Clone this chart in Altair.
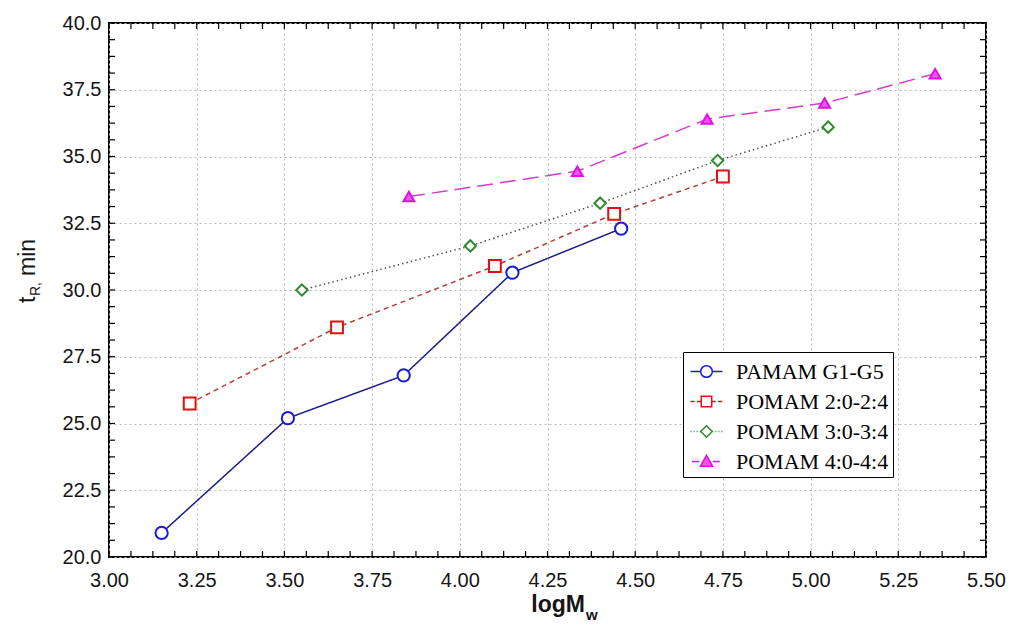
import altair as alt
import pandas as pd

# Series and measured points (x = logMw, y = retention time in min)
series_names = ["PAMAM G1-G5", "POMAM 2:0-2:4", "POMAM 3:0-3:4", "POMAM 4:0-4:4"]

pamam_x = [3.15, 3.51, 3.84, 4.15, 4.46]
pamam_y = [20.9, 25.2, 26.8, 30.65, 32.3]

pomam2_x = [3.23, 3.65, 4.10, 4.44, 4.75]
pomam2_y = [25.75, 28.6, 30.9, 32.85, 34.25]

pomam3_x = [3.55, 4.03, 4.40, 4.735, 5.05]
pomam3_y = [30.0, 31.65, 33.25, 34.85, 36.1]

pomam4_x = [3.855, 4.335, 4.705, 5.04, 5.355]
pomam4_y = [33.5, 34.45, 36.4, 37.0, 38.1]

x_labels = [3.0, 3.25, 3.5, 3.75, 4.0, 4.25, 4.5, 4.75, 5.0, 5.25, 5.5]
y_labels = [20.0, 22.5, 25.0, 27.5, 30.0, 32.5, 35.0, 37.5, 40.0]
x_ticks = [3.0 + 0.0625 * i for i in range(41)]
y_ticks = [20.0 + 0.625 * i for i in range(33)]

rows = []
for name, xs, ys in zip(series_names,
                        [pamam_x, pomam2_x, pomam3_x, pomam4_x],
                        [pamam_y, pomam2_y, pomam3_y, pomam4_y]):
    for a, b in zip(xs, ys):
        rows.append({"series": name, "logMw": a, "tR": b})
df = pd.DataFrame(rows)
xt = pd.DataFrame({"xpos": x_ticks})
yt = pd.DataFrame({"ypos": y_ticks})

line_colors = ["#1c1c8c", "#b2403a", "#4a5a4a", "#d23ec8"]
marker_colors = ["#1a1ade", "#dd1111", "#2e8b2e", "#e010e0"]
marker_fills = ["white", "white", "white", "#ee55ee"]
dash_styles = [[1, 0], [5, 4], [1.5, 3], [16, 7]]
marker_shapes = ["circle", "square", "diamond", "triangle-up"]
marker_sizes = [150, 120, 95, 130]

SANS = "Liberation Sans"
SERIF = "Liberation Serif"
INK = "#151515"
W, H = 877, 534
TICK = 6


# Legend glyphs: a short line in the series' dash style with the marker in the middle
def segment(x0, x1, dash, gap):
    parts = []
    x = x0
    while x < x1 - 1e-9:
        e = min(x + dash, x1)
        parts.append(f"M{x:.3f},0H{e:.3f}")
        x = e + gap
    return "".join(parts)


def side_lines(r, dash, gap, reach=1.1):
    return segment(-reach, -r, dash, gap) + segment(r, reach, dash, gap)


def circle(r):
    return f"M{-r},0A{r},{r} 0 1,0 {r},0A{r},{r} 0 1,0 {-r},0Z"


def square(s):
    return f"M{-s},{-s}H{s}V{s}H{-s}Z"


def diamond(d):
    return f"M0,{-d}L{d},0L0,{d}L{-d},0Z"


def triangle(t):
    return f"M0,{-t}L{t},{t * 0.8:.3f}L{-t},{t * 0.8:.3f}Z"


legend_paths = [
    side_lines(0.4, 2.5, 0.0) + circle(0.4),
    side_lines(0.36, 0.28, 0.16) + square(0.36),
    side_lines(0.4, 0.07, 0.14) + diamond(0.4),
    side_lines(0.42, 0.5, 0.2, reach=1.0) + triangle(0.42),
]


def xscale():
    return alt.Scale(domain=[3.0, 5.5], nice=False, zero=False)


def yscale():
    return alt.Scale(domain=[20.0, 40.0], nice=False, zero=False)


# Lines, with tick labels and dotted grid
lines = alt.Chart(df).mark_line(strokeWidth=1.5).encode(
    x=alt.X("logMw:Q", scale=xscale(),
            axis=alt.Axis(values=x_labels, format=".2f", orient="bottom", ticks=False,
                          domain=False, grid=True, gridDash=[2, 3], gridColor="#b8b8b8",
                          gridWidth=1, labelFont=SANS, labelFontSize=20, labelColor=INK,
                          labelPadding=13, labelFlush=False, title=None)),
    y=alt.Y("tR:Q", scale=yscale(),
            axis=alt.Axis(values=y_labels, format=".1f", orient="left", ticks=False,
                          domain=False, grid=True, gridDash=[2, 3], gridColor="#b8b8b8",
                          gridWidth=1, labelFont=SANS, labelFontSize=20, labelColor=INK,
                          labelPadding=8, labelFlush=False, title=None)),
    color=alt.Color("series:N", scale=alt.Scale(domain=series_names, range=line_colors), legend=None),
    strokeDash=alt.StrokeDash("series:N", scale=alt.Scale(domain=series_names, range=dash_styles),
                              legend=None),
)

# Markers
points = alt.Chart(df).mark_point(filled=False, opacity=1, strokeWidth=2).encode(
    x=alt.X("logMw:Q", scale=xscale(), axis=None),
    y=alt.Y("tR:Q", scale=yscale(), axis=None),
    shape=alt.Shape("series:N", scale=alt.Scale(domain=series_names, range=marker_shapes), legend=None),
    stroke=alt.Stroke("series:N", scale=alt.Scale(domain=series_names, range=marker_colors), legend=None),
    fill=alt.Fill("series:N", scale=alt.Scale(domain=series_names, range=marker_fills), legend=None),
    size=alt.Size("series:O", scale=alt.Scale(domain=series_names, range=marker_sizes), legend=None),
)

legend_spec = alt.Legend(title=None, orient="none", legendX=574, legendY=329, padding=4,
                         symbolSize=841, symbolStrokeWidth=1.5, symbolOffset=4, labelOffset=14,
                         labelFont=SERIF, labelFontSize=22, labelColor="black", rowPadding=3,
                         strokeColor="black", fillColor="white", labelLimit=400)

# Legend carrier (draws no marks itself)
legend_layer = alt.Chart(df).transform_filter("false").mark_point(
    filled=False, opacity=1, strokeWidth=1.5).encode(
    x=alt.X("logMw:Q", scale=xscale(), axis=None),
    y=alt.Y("tR:Q", scale=yscale(), axis=None),
    shape=alt.Shape("series:N", scale=alt.Scale(domain=series_names, range=legend_paths),
                    legend=legend_spec),
    stroke=alt.Stroke("series:N", scale=alt.Scale(domain=series_names, range=marker_colors),
                      legend=legend_spec),
    fill=alt.Fill("series:N", scale=alt.Scale(domain=series_names, range=marker_fills),
                  legend=legend_spec),
)

# Inward minor ticks on all four sides of the frame
ticks_bottom = alt.Chart(xt).mark_tick(orient="vertical", size=TICK, thickness=1.2,
                                       color="black", opacity=1).encode(
    x=alt.X("xpos:Q", scale=xscale(), axis=None), y=alt.value(H - TICK / 2))
ticks_top = alt.Chart(xt).mark_tick(orient="vertical", size=TICK, thickness=1.2,
                                    color="black", opacity=1).encode(
    x=alt.X("xpos:Q", scale=xscale(), axis=None), y=alt.value(TICK / 2))
ticks_left = alt.Chart(yt).mark_tick(orient="horizontal", size=TICK, thickness=1.2,
                                     color="black", opacity=1).encode(
    y=alt.Y("ypos:Q", scale=yscale(), axis=None), x=alt.value(TICK / 2))
ticks_right = alt.Chart(yt).mark_tick(orient="horizontal", size=TICK, thickness=1.2,
                                      color="black", opacity=1).encode(
    y=alt.Y("ypos:Q", scale=yscale(), axis=None), x=alt.value(W - TICK / 2))

# Axis titles with subscripts
one = pd.DataFrame({"k": [0]})
x_title = alt.Chart(one).mark_text(text="logM", font=SANS, fontSize=23, fontWeight="bold",
                                   align="right", baseline="alphabetic", color=INK).encode(
    x=alt.value(476), y=alt.value(589))
x_sub = alt.Chart(one).mark_text(text="w", font=SANS, fontSize=15, fontWeight="bold",
                                 align="left", baseline="alphabetic", color=INK).encode(
    x=alt.value(477), y=alt.value(597))
y_t = alt.Chart(one).mark_text(text="t", font=SANS, fontSize=23, angle=270,
                               align="left", baseline="alphabetic", color=INK).encode(
    x=alt.value(-74), y=alt.value(280))
y_sub = alt.Chart(one).mark_text(text="R,", font=SANS, fontSize=14, angle=270,
                                 align="left", baseline="alphabetic", color=INK).encode(
    x=alt.value(-69), y=alt.value(273))
y_rest = alt.Chart(one).mark_text(text="min", font=SANS, fontSize=23, angle=270,
                                  align="left", baseline="alphabetic", color=INK).encode(
    x=alt.value(-74), y=alt.value(253))

chart = alt.layer(
    lines, points, legend_layer, ticks_bottom, ticks_top, ticks_left, ticks_right,
    x_title, x_sub, y_t, y_sub, y_rest,
).resolve_scale(
    x="independent", y="independent",
    color="independent", stroke="independent", fill="independent", shape="independent",
    size="independent", strokeDash="independent",
).resolve_axis(x="independent", y="independent").properties(
    width=W, height=H,
    autosize=alt.AutoSizeParams(type="none"),
    padding={"left": 109, "top": 23, "right": 25, "bottom": 73},
    background="white",
).configure_view(stroke="black", strokeWidth=2)

chart.save("out.html", embed_options={"renderer": "svg", "actions": False})
